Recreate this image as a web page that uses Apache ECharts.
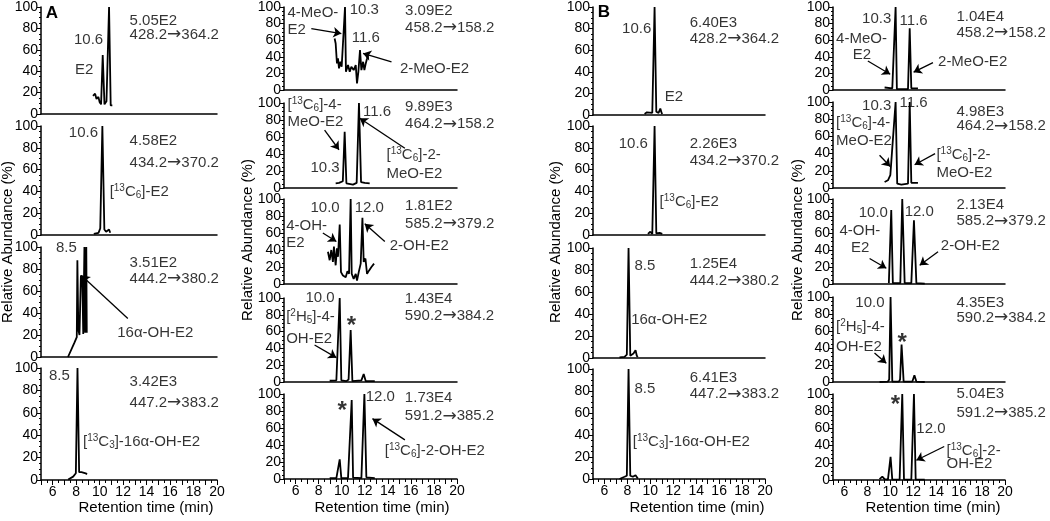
<!DOCTYPE html>
<html>
<head>
<meta charset="utf-8">
<script src="https://cdn.jsdelivr.net/npm/echarts@6/dist/echarts.min.js"></script>
<style>
  html, body { margin: 0; background: #fff; }
  #chart { width: 1050px; height: 521px; }
</style>
</head>
<body>
<div id="chart"></div>
<script>
// x tick labels shown on the bottom panels, y ticks on every panel
const xTickLabels = [6, 8, 10, 12, 14, 16, 18, 20];
const yTicks = [0, 20, 40, 60, 80, 100];

// ---- panel A, left column: [time (min), relative abundance (%)] ----
const traceA1 = [[9.43,17],[9.61,19],[9.73,14],[9.89,16],[10.0,11],[10.12,9],[10.26,55],[10.41,9],[10.58,12],[10.8,100],[10.94,8],[11.08,8]];
const traceA2 = [[9.5,1],[9.9,2],[10.05,6],[10.23,100],[10.4,5],[10.55,3],[10.7,3],[10.8,5],[10.9,2]];
const traceA3 = [[7.3,0],[7.85,13],[8.05,18],[8.1,88],[8.18,25],[8.28,20],[8.4,74],[8.52,72],[8.6,21],[8.7,100],[8.76,22],[8.86,100],[8.9,22]];
const traceA4 = [[7.32,0.5],[7.74,3],[7.97,6],[8.11,100],[8.25,7],[8.45,7],[8.81,6],[8.92,5]];
// ---- panel A, right column ----
const traceA5 = [[9.39,62],[9.48,56],[9.59,32],[9.68,38],[9.77,26],[9.89,34],[10.0,28],[10.11,30],[10.29,100],[10.37,22],[10.55,30],[10.7,22],[10.84,28],[11.04,24],[11.22,30],[11.33,8],[11.45,22],[11.59,48],[11.71,24],[11.86,34],[11.97,24],[12.09,32],[12.2,38],[12.29,44]];
const traceA6 = [[9.48,5.5],[9.77,6],[10.1,8],[10.26,66],[10.41,5.5],[10.98,4],[11.3,6],[11.5,100],[11.68,7],[12.0,6],[12.43,5.5]];
const traceA7 = [[8.81,38],[8.96,28],[9.1,40],[9.24,26],[9.33,44],[9.48,22],[9.59,42],[9.68,32],[9.83,70],[9.94,14],[10.11,10],[10.35,8],[10.5,15],[10.64,12],[10.78,100],[10.87,12],[11.04,6],[11.22,12],[11.33,4],[11.48,14],[11.65,24],[11.8,78],[11.91,26],[12.06,30],[12.2,12],[12.38,16],[12.58,20],[12.81,24]];
const traceA8 = [[8.96,1.5],[9.54,2],[9.7,3],[9.83,100],[9.97,2],[10.41,1],[10.6,3],[10.78,62],[10.93,1],[11.71,2],[11.91,9.5],[12.09,1],[12.87,1]];
const traceA9 = [[8.96,1],[9.54,1],[9.7,3],[9.83,23],[9.97,1],[10.55,1],[10.7,3],[10.87,93],[10.99,1.5],[11.71,1],[11.85,3],[11.97,100],[12.14,2],[12.87,1]];
// ---- panel B, left column ----
const traceB1 = [[9.5,1],[9.7,2.5],[9.87,1],[10.17,2],[10.37,100],[10.52,3],[10.72,2],[10.87,6],[10.98,2],[11.04,1]];
const traceB2 = [[9.79,1],[10.0,3],[10.17,1],[10.37,100],[10.52,1.5],[10.81,2],[11.04,1]];
const traceB3 = [[7.31,0.6],[7.75,1],[7.95,3],[8.1,100],[8.25,2],[8.53,4],[8.71,7],[8.82,2],[8.91,1]];
const traceB4 = [[7.31,0],[7.75,2],[7.95,3],[8.1,100],[8.25,3],[8.47,2],[8.71,3.5],[8.91,0.5]];
// ---- panel B, right column ----
const traceB5 = [[9.5,3],[10.17,2],[10.3,4],[10.46,100],[10.57,1],[11.54,1],[11.69,74.5],[11.83,2],[12.41,2]];
const traceB6 = [[9.5,7],[9.79,9],[10.0,15],[10.17,13],[10.46,100],[10.6,5],[10.96,4],[11.54,5],[11.69,100],[11.83,6],[12.41,6]];
const traceB7 = [[9.87,1],[9.95,2],[10.08,87],[10.22,1],[10.87,1],[11.04,100],[11.25,1],[11.83,1],[12.06,75],[12.27,1],[13.0,0.5]];
const traceB8 = [[9.06,0],[9.79,0.5],[9.9,3],[10.02,100],[10.17,0.5],[10.75,0.5],[10.85,3],[10.98,44],[11.16,0.5],[11.92,0.5],[12.1,8],[12.27,0.5],[13.0,0]];
const traceB9 = [[9.06,1],[9.3,4],[9.5,1],[9.79,0.5],[10.02,27],[10.17,0.5],[10.81,0.5],[11.04,100],[11.19,0.5],[11.83,0.5],[12.06,100],[12.21,0.5],[13.0,0.5]];

// annotations: [time, abundance, text, anchor]
const notesA1 = [[10.3,69,'10.6','right'],[7.9,41,'E2','left'],[12.55,87,'5.05E2','left'],[12.55,74,'428.2{arr|→}364.2','left']];
const notesA2 = [[9.86,94,'10.6','right'],[10.85,40,'[{sup|13}C{sub|6}]-E2','left'],[12.55,86,'4.58E2','left'],[12.55,66,'434.2{arr|→}370.2','left']];
const notesA3 = [[8.05,99,'8.5','right'],[11.5,22,'16α-OH-E2','left'],[12.55,86,'3.51E2','left'],[12.55,71,'444.2{arr|→}380.2','left']];
const notesA4 = [[7.46,93,'8.5','right'],[8.58,34,'[{sup|13}C{sub|3}]-16α-OH-E2','left'],[12.55,87.5,'3.42E3','left'],[12.55,69,'447.2{arr|→}383.2','left']];
const notesA5 = [[5.3,93,'4-MeO-','left'],[5.3,72,'E2','left'],[10.7,96,'10.3','left'],[10.87,63,'11.6','left'],[15.05,25,'2-MeO-E2','left'],[15.5,95,'3.09E2','left'],[15.5,75,'458.2{arr|→}158.2','left']];
const notesA6 = [[5.3,98,'[{sup|13}C{sub|6}]-4-','left'],[5.3,78,'MeO-E2','left'],[9.83,23.5,'10.3','right'],[11.85,90,'11.6','left'],[13.89,39,'[{sup|13}C{sub|6}]-2-','left'],[13.89,16.5,'MeO-E2','left'],[15.5,95,'9.89E3','left'],[15.5,75,'464.2{arr|→}158.2','left']];
const notesA7 = [[9.83,89,'10.0','right'],[11.13,89,'12.0','left'],[5.19,68,'4-OH-','left'],[5.19,48,'E2','left'],[14.17,45,'2-OH-E2','left'],[15.5,92,'1.81E2','left'],[15.5,70.6,'585.2{arr|→}379.2','left']];
const notesA8 = [[9.39,100,'10.0','right'],[5.19,78,'[{sup|2}H{sub|5}]-4-','left'],[5.19,51,'OH-E2','left'],[10.84,66,'{star|*}','center'],[15.48,99,'1.43E4','left'],[15.48,78.6,'590.2{arr|→}384.2','left']];
const notesA9 = [[10.04,79,'{star|*}','center'],[12.09,96.5,'12.0','left'],[15.48,95,'1.73E4','left'],[15.48,74,'591.2{arr|→}385.2','left'],[13.74,33.5,'[{sup|13}C{sub|6}]-2-OH-E2','left']];
const notesB1 = [[10.08,79.5,'10.6','right'],[11.25,17,'E2','left'],[13.43,85.5,'6.40E3','left'],[13.43,70.5,'428.2{arr|→}364.2','left']];
const notesB2 = [[9.79,83.5,'10.6','right'],[10.81,30.7,'[{sup|13}C{sub|6}]-E2','left'],[13.43,83.5,'2.26E3','left'],[13.43,67.9,'434.2{arr|→}370.2','left']];
const notesB3 = [[8.62,83.6,'8.5','left'],[8.33,34.5,'16α-OH-E2','left'],[13.43,85.5,'1.25E4','left'],[13.43,70,'444.2{arr|→}380.2','left']];
const notesB4 = [[8.62,82,'8.5','left'],[8.47,34,'[{sup|13}C{sub|3}]-16α-OH-E2','left'],[13.43,92,'6.41E3','left'],[13.43,77,'447.2{arr|→}383.2','left']];
const notesB5 = [[10.08,86,'10.3','right'],[10.81,83.5,'11.6','left'],[5.27,62,'4-MeO-','left'],[6.73,42,'E2','left'],[14.16,34,'2-MeO-E2','left'],[15.77,88,'1.04E4','left'],[15.77,69,'458.2{arr|→}158.2','left']];
const notesB6 = [[10.08,95,'10.3','right'],[10.81,99,'11.6','left'],[5.27,75.6,'[{sup|13}C{sub|6}]-4-','left'],[5.27,55,'MeO-E2','left'],[14.02,39,'[{sup|13}C{sub|6}]-2-','left'],[14.02,18,'MeO-E2','left'],[15.77,88,'4.98E3','left'],[15.77,72,'464.2{arr|→}158.2','left']];
const notesB7 = [[9.79,84,'10.0','right'],[11.25,85,'12.0','left'],[5.56,63,'4-OH-','left'],[6.58,42,'E2','left'],[14.4,45,'2-OH-E2','left'],[15.77,93,'2.13E4','left'],[15.77,74,'585.2{arr|→}379.2','left']];
const notesB8 = [[9.49,93.5,'10.0','right'],[5.27,64.7,'[{sup|2}H{sub|5}]-4-','left'],[5.27,41,'OH-E2','left'],[11.03,46,'{star|*}','center'],[15.77,93.5,'4.35E3','left'],[15.77,76,'590.2{arr|→}384.2','left']];
const notesB9 = [[10.44,87,'{star|*}','center'],[12.27,59,'12.0','left'],[14.9,34,'[{sup|13}C{sub|6}]-2-','left'],[14.9,18.6,'OH-E2','left'],[15.77,100,'5.04E3','left'],[15.77,78.5,'591.2{arr|→}385.2','left']];

// arrows: [[fromTime, fromAbund], [toTime, toAbund]]
const arrowsA3 = [[[12.4,35],[8.45,74]]];
const arrowsA5 = [[[7.37,74],[9.97,68]],[[14.32,34],[11.85,44]]];
const arrowsA6 = [[[8.52,68],[9.77,45]],[[15.48,46.7],[11.57,82]]];
const arrowsA7 = [[[8.37,60],[9.54,50]],[[13.74,50],[12.0,71]]];
const arrowsA8 = [[[7.65,44],[9.54,29]]];
const arrowsA9 = [[[15.48,46],[12.67,71]]];
const arrowsB5 = [[[8.04,35],[9.99,19]],[[13.72,33],[12.03,21.5]]];
const arrowsB6 = [[[9.06,38],[9.99,25]],[[13.9,40],[12.12,27]]];
const arrowsB7 = [[[8.19,30],[9.65,18.5]],[[14.16,38],[12.56,22]]];
const arrowsB8 = [[[8.62,34],[9.65,22]]];
const arrowsB9 = [[[14.7,39],[12.27,23]]];

// grid boxes: [left, top, width, height]
const panels = [
  {box: [41, 4, 176, 110], trace: traceA1, notes: notesA1, arrows: []},
  {box: [41, 126, 176, 109], trace: traceA2, notes: notesA2, arrows: []},
  {box: [41, 247, 176, 110], trace: traceA3, notes: notesA3, arrows: arrowsA3},
  {box: [41, 368, 176, 112], trace: traceA4, notes: notesA4, arrows: [], bottom: true},
  {box: [284, 7, 173, 83], trace: traceA5, notes: notesA5, arrows: arrowsA5},
  {box: [284, 103, 173, 85], trace: traceA6, notes: notesA6, arrows: arrowsA6},
  {box: [284, 199, 173, 85], trace: traceA7, notes: notesA7, arrows: arrowsA7},
  {box: [284, 298, 173, 84], trace: traceA8, notes: notesA8, arrows: arrowsA8},
  {box: [284, 394, 173, 85], trace: traceA9, notes: notesA9, arrows: arrowsA9, bottom: true},
  {box: [593, 5, 172, 110], trace: traceB1, notes: notesB1, arrows: []},
  {box: [593, 126, 172, 109], trace: traceB2, notes: notesB2, arrows: []},
  {box: [593, 248, 172, 110], trace: traceB3, notes: notesB3, arrows: []},
  {box: [593, 369, 172, 110], trace: traceB4, notes: notesB4, arrows: [], bottom: true},
  {box: [833, 5, 172, 85], trace: traceB5, notes: notesB5, arrows: arrowsB5},
  {box: [833, 102, 172, 86], trace: traceB6, notes: notesB6, arrows: arrowsB6},
  {box: [833, 199, 172, 85], trace: traceB7, notes: notesB7, arrows: arrowsB7},
  {box: [833, 297, 172, 85], trace: traceB8, notes: notesB8, arrows: arrowsB8},
  {box: [833, 394, 172, 86], trace: traceB9, notes: notesB9, arrows: arrowsB9, bottom: true}
];

const FONT = 'Liberation Sans, Arial, Helvetica, sans-serif';
const rich = {
  sup: {fontSize: 10, fontFamily: FONT, color: '#000', verticalAlign: 'top', lineHeight: 10},
  sub: {fontSize: 10, fontFamily: FONT, color: '#000', verticalAlign: 'bottom', lineHeight: 10},
  arr: {fontSize: 17, fontFamily: 'DejaVu Sans', color: '#000', lineHeight: 17},
  star: {fontSize: 24, fontFamily: FONT, color: '#000', fontWeight: 'bold', lineHeight: 24}
};

const grid = [], xAxis = [], yAxis = [], series = [];

panels.forEach((p, i) => {
  grid.push({left: p.box[0], top: p.box[1], width: p.box[2], height: p.box[3], containLabel: false});

  xAxis.push({
    type: 'value', gridIndex: i, min: 5, max: 20, interval: 1,
    axisLine: {show: true, lineStyle: {color: '#000', width: 1.5}},
    axisTick: {show: !!p.bottom, length: 5, lineStyle: {color: '#000', width: 1}},
    minorTick: {show: !!p.bottom, splitNumber: 2, length: 3, lineStyle: {color: '#000', width: 1}},
    axisLabel: {
      show: !!p.bottom, fontSize: 14, fontFamily: FONT, color: '#000', margin: 5,
      formatter: v => xTickLabels.includes(v) ? String(v) : ''
    },
    splitLine: {show: false}
  });

  yAxis.push({
    type: 'value', gridIndex: i, min: yTicks[0], max: yTicks[yTicks.length - 1], interval: 20,
    axisLine: {show: true, lineStyle: {color: '#000', width: 1.5}},
    axisTick: {show: true, length: 4, lineStyle: {color: '#000', width: 1}},
    minorTick: {show: true, splitNumber: 4, length: 2, lineStyle: {color: '#000', width: 1}},
    axisLabel: {fontSize: 14, fontFamily: FONT, color: '#000', margin: 3},
    splitLine: {show: false}
  });

  series.push({
    type: 'line', xAxisIndex: i, yAxisIndex: i,
    data: p.trace, showSymbol: false, symbol: 'none', silent: true,
    lineStyle: {color: '#000', width: 1.8}, clip: true,
    markLine: p.arrows.length ? {
      silent: true, symbol: ['none', 'arrow'], symbolSize: 8,
      lineStyle: {color: '#000', width: 1.3, type: 'solid'},
      label: {show: false},
      data: p.arrows.map(a => [{coord: a[0]}, {coord: a[1]}])
    } : undefined
  });

  series.push({
    type: 'scatter', xAxisIndex: i, yAxisIndex: i, symbolSize: 0, silent: true, clip: false,
    data: p.notes.map(n => ({
      value: [n[0], n[1]],
      label: {
        show: true, position: [0, 0], formatter: n[2], align: n[3], verticalAlign: 'middle',
        fontSize: 15, fontFamily: FONT, color: '#000', lineHeight: 17, rich: rich
      }
    }))
  });
});

const yTitle = (x, y) => ({
  type: 'text', x: x, y: y, rotation: Math.PI / 2,
  style: {text: 'Relative Abundance (%)', font: '15px ' + FONT, fill: '#000', textAlign: 'center', textVerticalAlign: 'middle'}
});
const xTitle = (x) => ({
  type: 'text', x: x, y: 508,
  style: {text: 'Retention time (min)', font: '15px ' + FONT, fill: '#000', textAlign: 'center', textVerticalAlign: 'middle'}
});

const chart = echarts.init(document.getElementById('chart'), null, {renderer: 'canvas'});
chart.setOption({
  animation: false,
  backgroundColor: '#fff',
  grid, xAxis, yAxis, series,
  graphic: [
    yTitle(8, 242), yTitle(248, 240), yTitle(556, 242), yTitle(798, 240),
    xTitle(146), xTitle(382), xTitle(697), xTitle(933),
    {type: 'text', x: 52, y: 13, style: {text: 'A', font: 'bold 17px ' + FONT, fill: '#000', textAlign: 'center', textVerticalAlign: 'middle'}},
    {type: 'text', x: 604, y: 12, style: {text: 'B', font: 'bold 17px ' + FONT, fill: '#000', textAlign: 'center', textVerticalAlign: 'middle'}}
  ]
});
</script>
</body>
</html>
